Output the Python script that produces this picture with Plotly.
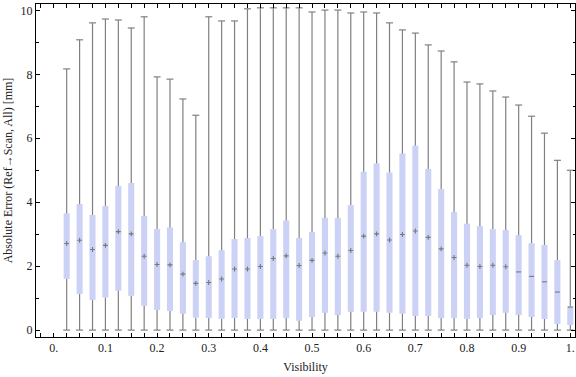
import plotly.graph_objects as go

# ---- data ----
visibility = [0.025, 0.05, 0.075, 0.1, 0.125, 0.15, 0.175, 0.2, 0.225, 0.25,
              0.275, 0.3, 0.325, 0.35, 0.375, 0.4, 0.425, 0.45, 0.475, 0.5,
              0.525, 0.55, 0.575, 0.6, 0.625, 0.65, 0.675, 0.7, 0.725, 0.75,
              0.775, 0.8, 0.825, 0.85, 0.875, 0.9, 0.925, 0.95, 0.975, 1.0]

err_min = [0, 0, 0, 0, 0, 0, 0, 0, 0, 0,
           0, 0, 0, 0, 0, 0, 0, 0, 0, 0,
           0, 0, 0, 0, 0, 0, 0, 0, 0, 0,
           0, 0, 0, 0, 0, 0, 0, 0, 0, 0]

err_q1 = [1.60, 1.13, 0.94, 1.02, 1.23, 1.07, 0.76, 0.63, 0.60, 0.51,
          0.39, 0.38, 0.35, 0.38, 0.35, 0.35, 0.35, 0.38, 0.29, 0.41,
          0.54, 0.47, 0.57, 0.57, 0.57, 0.54, 0.51, 0.44, 0.44, 0.38,
          0.38, 0.35, 0.38, 0.47, 0.54, 0.47, 0.41, 0.35, 0.19, 0.16]

err_median = [2.71, 2.81, 2.52, 2.65, 3.08, 3.01, 2.31, 2.05, 2.04, 1.75,
              1.46, 1.49, 1.60, 1.91, 1.91, 1.99, 2.24, 2.32, 2.02, 2.18,
              2.41, 2.31, 2.49, 2.94, 3.01, 2.82, 2.99, 3.10, 2.90, 2.54,
              2.27, 2.03, 1.99, 2.03, 1.98, 1.82, 1.68, 1.51, 1.19, 0.72]

err_q3 = [3.65, 3.94, 3.60, 3.88, 4.51, 4.60, 3.57, 3.16, 3.21, 2.75,
          2.19, 2.31, 2.50, 2.85, 2.88, 2.94, 3.16, 3.43, 2.88, 3.07,
          3.51, 3.51, 3.91, 4.95, 5.21, 4.93, 5.52, 5.77, 5.04, 4.41,
          3.69, 3.33, 3.25, 3.16, 3.13, 2.97, 2.72, 2.66, 2.19, 0.75]

err_max = [8.17, 9.08, 9.61, 9.73, 9.70, 9.45, 9.80, 7.92, 7.85, 7.23,
           6.72, 9.80, 9.67, 9.67, 10.05, 10.08, 10.08, 10.08, 10.08, 9.95,
           10.01, 10.01, 9.92, 9.95, 9.92, 9.61, 9.39, 9.29, 8.92, 8.73,
           8.39, 7.76, 7.70, 7.48, 7.29, 7.04, 6.69, 6.16, 5.31, 5.00]

x_tick_vals = [0, 0.1, 0.2, 0.3, 0.4, 0.5, 0.6, 0.7, 0.8, 0.9, 1.0]
x_tick_text = ["0.", "0.1", "0.2", "0.3", "0.4", "0.5", "0.6", "0.7", "0.8", "0.9", "1."]
y_tick_vals = [0, 2, 4, 6, 8, 10]
y_tick_text = ["0", "2", "4", "6", "8", "10"]

# ---- styling ----
BOX_FILL = "rgb(204,210,245)"
WHISK = "rgb(128,128,128)"
FONT = "Liberation Serif"

fig = go.Figure()

# boxes (interquartile range)
fig.add_trace(go.Bar(
    x=visibility,
    y=[q3 - q1 for q1, q3 in zip(err_q1, err_q3)],
    base=err_q1,
    width=0.0118,
    marker=dict(color=BOX_FILL, line=dict(width=0)),
    hoverinfo="skip",
    showlegend=False,
))

# whiskers (min -> q1 and q3 -> max)
wx, wy = [], []
for v, mn, q1, q3, mx in zip(visibility, err_min, err_q1, err_q3, err_max):
    wx += [v, v, None, v, v, None]
    wy += [mn, q1, None, q3, mx, None]
fig.add_trace(go.Scatter(
    x=wx, y=wy, mode="lines",
    line=dict(color=WHISK, width=1.2),
    hoverinfo="skip", showlegend=False,
))

# whisker caps
fig.add_trace(go.Scatter(
    x=visibility + visibility,
    y=err_min + err_max,
    mode="markers",
    marker=dict(symbol="line-ew", size=5, line=dict(color=WHISK, width=1.2)),
    hoverinfo="skip", showlegend=False,
))

# median markers
symbols = ["cross-thin" if v < 0.89 else "line-ew" for v in visibility]
fig.add_trace(go.Scatter(
    x=visibility, y=err_median, mode="markers",
    marker=dict(symbol=symbols, size=3.5, color=WHISK,
                line=dict(color="rgb(120,120,120)", width=1.1)),
    showlegend=False,
))

axis_common = dict(
    showline=True, linecolor="black", linewidth=1, mirror="ticks",
    ticks="inside", tickcolor="black", ticklen=4, tickwidth=1,
    showgrid=False, zeroline=False,
    tickfont=dict(family=FONT, size=12, color="#222"),
)

fig.update_xaxes(
    **axis_common,
    range=[-0.0344, 1.0091],
    tickvals=x_tick_vals, ticktext=x_tick_text,
    minor=dict(dtick=0.025, tick0=0, ticks="inside", ticklen=4,
               tickcolor="black", tickwidth=1, showgrid=False),
    title=dict(text="Visibility", font=dict(family=FONT, size=12, color="#222"),
               standoff=8),
)
fig.update_yaxes(
    **axis_common,
    range=[-0.216, 10.20],
    tickvals=y_tick_vals, ticktext=y_tick_text,
    minor=dict(dtick=1, tick0=0, ticks="inside", ticklen=2.5,
               tickcolor="black", tickwidth=1, showgrid=False),
    title=dict(text="Absolute Error (Ref\u2192Scan, All) [mm]",
               font=dict(family=FONT, size=12, color="#222"), standoff=5),
)

fig.update_layout(
    width=576, height=377,
    margin=dict(l=36, r=1, t=4, b=40),
    plot_bgcolor="white", paper_bgcolor="white",
    barmode="overlay",
    showlegend=False,
)

fig.write_html("out.html", config={"displayModeBar": False},
               post_script="document.body.style.margin='0';document.body.style.overflow='hidden';")
